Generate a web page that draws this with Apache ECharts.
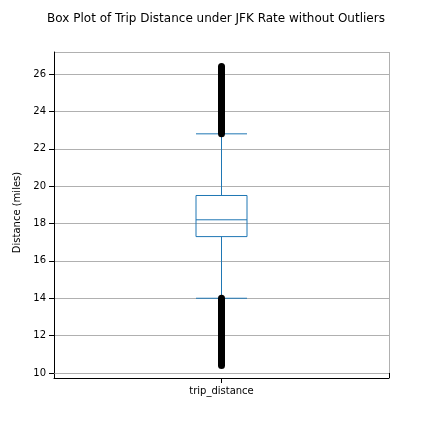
<!DOCTYPE html>
<html><head><meta charset="utf-8">
<script src="https://cdn.jsdelivr.net/npm/echarts@6/dist/echarts.min.js"></script>
<style>html,body{margin:0;padding:0;background:#fff}#c{width:432px;height:432px}</style>
</head><body><div id="c"></div>
<script>
const categories = ['trip_distance'];
const boxStats = [[14.0, 17.3, 18.2, 19.5, 22.8]];
const lowOutlierRange = [10.4, 14.0];
const highOutlierRange = [22.8, 26.4];

const chart = echarts.init(document.getElementById('c'));
const outlierLine = (r) => ({
  type: 'line', data: r.map(v => [categories[0], v]), symbol: 'none',
  lineStyle: { color: '#000', width: 7, cap: 'round' }, z: 5, silent: true
});
chart.setOption({
  animation: false,
  title: { text: 'Box Plot of Trip Distance under JFK Rate without Outliers', left: 'center', top: 8,
    textStyle: { fontFamily: 'DejaVu Sans', fontSize: 12, fontWeight: 'normal', color: '#000' } },
  grid: { left: 54, right: 43, top: 52, bottom: 59 },
  xAxis: { type: 'category', data: categories, offset: 5,
    axisLine: { lineStyle: { color: '#000' } }, axisTick: { show: true, alignWithLabel: true, lineStyle: { color: '#000' } },
    axisLabel: { color: '#000', fontFamily: 'DejaVu Sans', fontSize: 10 },
    splitLine: { show: true, lineStyle: { color: '#b0b0b0' } } },
  yAxis: { type: 'value', min: 10, max: 27.18, interval: 2,
    name: 'Distance (miles)', nameLocation: 'middle', nameGap: 30,
    nameTextStyle: { color: '#000', fontFamily: 'DejaVu Sans', fontSize: 10 },
    axisLine: { show: true, lineStyle: { color: '#000' } }, axisTick: { show: true, lineStyle: { color: '#000' } },
    axisLabel: { color: '#000', fontFamily: 'DejaVu Sans', fontSize: 10, showMaxLabel: false },
    splitLine: { lineStyle: { color: '#b0b0b0', width: 1 } } },
  graphic: [
    { type: 'line', shape: { x1: 54.5, y1: 373, x2: 54.5, y2: 378 }, style: { stroke: '#000' } },
    { type: 'line', shape: { x1: 389.5, y1: 52, x2: 389.5, y2: 378 }, style: { stroke: '#000' } },
    { type: 'line', shape: { x1: 54, y1: 52.5, x2: 389.5, y2: 52.5 }, style: { stroke: '#000' } }
  ],
  series: [
    { type: 'boxplot', data: boxStats, boxWidth: [51, 51],
      itemStyle: { color: 'transparent', borderColor: '#1f77b4', borderWidth: 1 }, z: 3 },
    outlierLine(lowOutlierRange), outlierLine(highOutlierRange)
  ]
});
</script></body></html>
